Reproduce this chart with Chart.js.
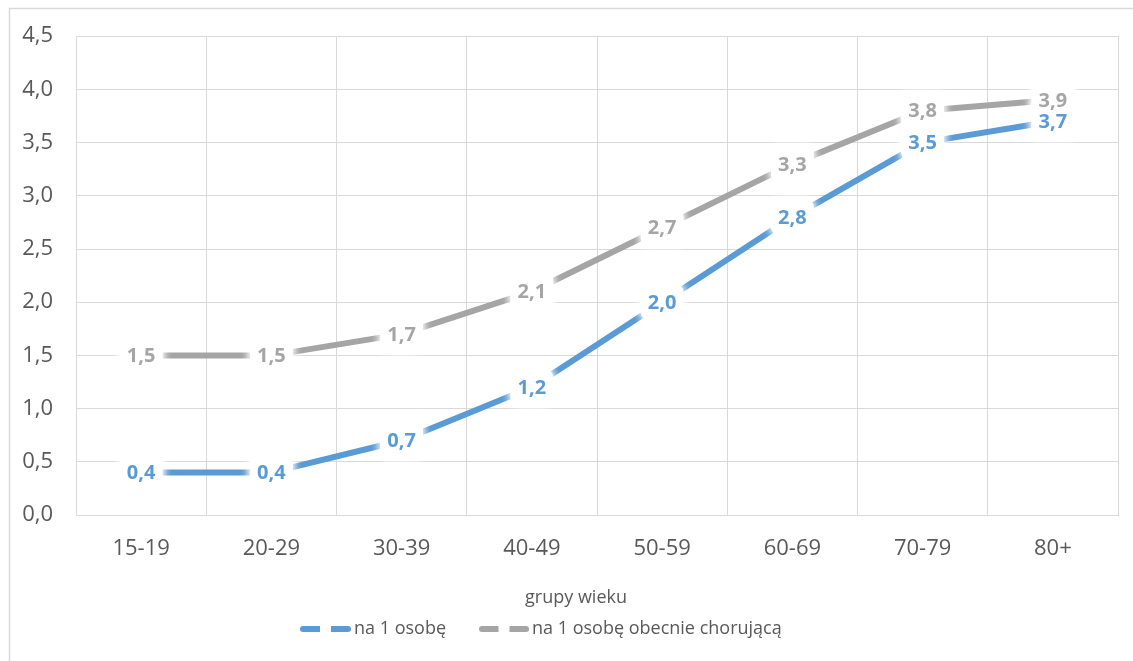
<!DOCTYPE html>
<html lang="pl">
<head>
<meta charset="utf-8">
<title>Liczba chorób przewlekłych według grup wieku</title>
<script src="https://cdn.jsdelivr.net/npm/chart.js@4.4.1/dist/chart.umd.min.js"></script>
<style>
  html, body { margin: 0; padding: 0; background: #ffffff; }
  #wrap { position: relative; width: 1133px; height: 661px; }
  canvas { display: block; }
</style>
</head>
<body>
<div id="wrap"><canvas id="chart" width="1133" height="661"></canvas></div>
<script>
// Grupy wieku (oś X)
const categories = ['15-19', '20-29', '30-39', '40-49', '50-59', '60-69', '70-79', '80+'];
// Średnia liczba na 1 osobę
const perPerson = [0.4, 0.4, 0.7, 1.2, 2.0, 2.8, 3.5, 3.7];
// Średnia liczba na 1 osobę obecnie chorującą
const perSickPerson = [1.5, 1.5, 1.7, 2.1, 2.7, 3.3, 3.8, 3.9];
// Nazwy serii
const seriesNames = ['na 1 osobę', 'na 1 osobę obecnie chorującą'];
const axisTitle = 'grupy wieku';
// Zakres osi Y
const yMin = 0, yMax = 4.5, yStep = 0.5;

const BLUE = '#5B9BD5';
const GRAY = '#A5A5A5';
const TEXT = '#595959';
const GRID = '#D9D9D9';
const FONT = "'Open Sans', 'DejaVu Sans', sans-serif";

const fmt = v => v.toFixed(1).replace('.', ',');

// Etykiety danych w białych polach: najpierw wszystkie pola, potem teksty
const dataLabels = {
  id: 'dataLabels',
  afterDatasetsDraw(chart) {
    const ctx = chart.ctx;
    ctx.save();
    ctx.font = 'bold 20px ' + FONT;
    ctx.textAlign = 'center';
    ctx.textBaseline = 'middle';
    const items = [];
    chart.data.datasets.forEach((ds, di) => {
      const meta = chart.getDatasetMeta(di);
      meta.data.forEach((pt, i) => {
        items.push({ txt: fmt(ds.data[i]), x: pt.x, y: pt.y, color: ds.borderColor });
      });
    });
    items.forEach(it => {
      const w = ctx.measureText(it.txt).width + 14;
      const h = 36;
      ctx.save();
      ctx.fillStyle = '#ffffff';
      ctx.shadowColor = '#ffffff';
      ctx.shadowBlur = 8;
      ctx.beginPath();
      ctx.roundRect(it.x - w / 2, it.y - h / 2, w, h, 8);
      ctx.fill();
      ctx.fill();
      ctx.restore();
    });
    items.forEach(it => {
      ctx.fillStyle = it.color;
      ctx.fillText(it.txt, it.x, it.y + 1);
    });
    ctx.restore();
  }
};

// Ramka wykresu, tytuł osi X i legenda
const frameAndLegend = {
  id: 'frameAndLegend',
  afterDraw(chart) {
    const ctx = chart.ctx;
    ctx.save();
    ctx.strokeStyle = GRID;
    ctx.lineWidth = 1.5;
    ctx.beginPath();
    ctx.moveTo(9.5, 661);
    ctx.lineTo(9.5, 8.5);
    ctx.lineTo(1133, 8.5);
    ctx.stroke();

    ctx.fillStyle = TEXT;
    ctx.font = '18px ' + FONT;
    ctx.textAlign = 'center';
    ctx.textBaseline = 'middle';
    ctx.fillText(axisTitle, 576, 598);

    const items = [
      { name: seriesNames[0], color: BLUE, x0: 300, x1: 351 },
      { name: seriesNames[1], color: GRAY, x0: 479, x1: 529 }
    ];
    const ly = 629;
    items.forEach(it => {
      ctx.strokeStyle = it.color;
      ctx.lineWidth = 6;
      ctx.lineCap = 'round';
      ctx.beginPath();
      ctx.moveTo(it.x0 + 3, ly);
      ctx.lineTo(it.x1 - 3, ly);
      ctx.stroke();
      const mid = (it.x0 + it.x1) / 2;
      ctx.fillStyle = '#ffffff';
      ctx.fillRect(mid - 5.5, ly - 5, 11, 10);
      ctx.fillStyle = TEXT;
      ctx.textAlign = 'left';
      ctx.fillText(it.name, it.x1 + 3, ly);
    });
    ctx.restore();
  }
};

new Chart(document.getElementById('chart'), {
  type: 'line',
  data: {
    labels: categories,
    datasets: [
      {
        label: seriesNames[0],
        data: perPerson,
        borderColor: BLUE,
        backgroundColor: BLUE,
        borderWidth: 6,
        borderCapStyle: 'butt',
        borderJoinStyle: 'round',
        pointRadius: 0,
        tension: 0,
        fill: false
      },
      {
        label: seriesNames[1],
        data: perSickPerson,
        borderColor: GRAY,
        backgroundColor: GRAY,
        borderWidth: 6,
        borderCapStyle: 'butt',
        borderJoinStyle: 'round',
        pointRadius: 0,
        tension: 0,
        fill: false
      }
    ]
  },
  options: {
    responsive: false,
    animation: false,
    devicePixelRatio: 1,
    layout: { padding: { left: 0, top: 36, right: 15, bottom: 0 } },
    plugins: {
      legend: { display: false },
      tooltip: { enabled: false },
      title: { display: false }
    },
    scales: {
      x: {
        offset: true,
        grid: { offset: true, color: GRID, lineWidth: 1, drawTicks: false },
        border: { display: true, color: GRID, width: 1 },
        ticks: { color: TEXT, font: { family: FONT, size: 22 }, padding: 21, maxRotation: 0, autoSkip: false },
        afterFit(scale) { scale.height = 146; }
      },
      y: {
        min: yMin,
        max: yMax,
        grid: { color: GRID, lineWidth: 1, drawTicks: false },
        border: { display: true, color: GRID, width: 1 },
        ticks: {
          stepSize: yStep,
          color: TEXT,
          font: { family: FONT, size: 22 },
          padding: 23,
          callback: v => fmt(v)
        },
        afterFit(scale) { scale.width = 76; }
      }
    }
  },
  plugins: [dataLabels, frameAndLegend]
});
</script>
</body>
</html>
